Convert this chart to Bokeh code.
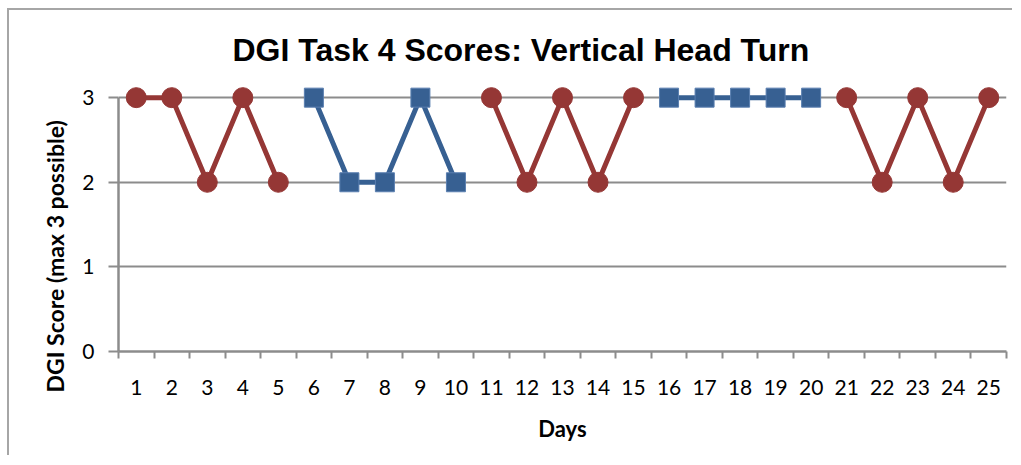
from bokeh.plotting import figure
from bokeh.models import FixedTicker, Range1d, Title
from bokeh.embed import file_html
from bokeh.resources import INLINE

# ---- data ----
title_text = "DGI Task 4 Scores: Vertical Head Turn"
x_label = "Days"
y_label = "DGI Score (max 3 possible)"
day_labels = ["1", "2", "3", "4", "5", "6", "7", "8", "9", "10", "11", "12", "13",
              "14", "15", "16", "17", "18", "19", "20", "21", "22", "23", "24", "25"]
red_days = [1, 2, 3, 4, 5, 11, 12, 13, 14, 15, 21, 22, 23, 24, 25]
red_scores = [3, 3, 2, 3, 2, 3, 2, 3, 2, 3, 3, 2, 3, 2, 3]
blue_days = [6, 7, 8, 9, 10, 16, 17, 18, 19, 20]
blue_scores = [3, 2, 2, 3, 2, 3, 3, 3, 3, 3]
y_ticks = [0, 1, 2, 3]

RED = "#953735"
BLUE = "#376092"
GRID = "#8c8c8c"


def with_breaks(xs, ys):
    ox, oy = [], []
    for i, (x, y) in enumerate(zip(xs, ys)):
        if i > 0 and x - xs[i - 1] > 1:
            ox.append(float("nan"))
            oy.append(float("nan"))
        ox.append(x)
        oy.append(y)
    return ox, oy


n = len(day_labels)
p = figure(width=1005, height=447, output_backend="svg", toolbar_location=None,
           x_range=Range1d(0.5, n + 0.5), y_range=Range1d(0, 3.25),
           min_border_left=109, min_border_right=8, min_border_top=66,
           min_border_bottom=106)
p.styles = {"border-top": "2px solid #a6a6a6", "border-left": "2px solid #a6a6a6",
            "margin-left": "7px", "margin-top": "8px"}
p.outline_line_color = None
p.background_fill_color = "white"
p.border_fill_color = "white"

p.title = Title(text=title_text, align="left", offset=114, standoff=18,
                text_font="Liberation Sans", text_font_style="bold",
                text_font_size="32px", text_color="black")

# x axis: labels at category centres, tick marks at category boundaries
p.xaxis.ticker = FixedTicker(ticks=list(range(1, n + 1)),
                             minor_ticks=[k + 0.5 for k in range(n + 1)])
p.xaxis.major_label_overrides = {i + 1: s for i, s in enumerate(day_labels)}
p.xaxis.major_tick_line_color = None
p.xaxis.major_tick_out = 0
p.xaxis.major_tick_in = 0
p.xaxis.minor_tick_line_color = GRID
p.xaxis.minor_tick_line_width = 2
p.xaxis.minor_tick_out = 7
p.xaxis.minor_tick_in = 0
p.xaxis.major_label_standoff = 21
p.xaxis.major_label_text_font = "Lato"
p.xaxis.major_label_text_font_size = "21px"
p.xaxis.major_label_text_color = "black"
p.xaxis.axis_line_color = GRID
p.xaxis.axis_line_width = 2.5
p.xaxis.axis_label = x_label
p.xaxis.axis_label_text_font = "Lato"
p.xaxis.axis_label_text_font_style = "bold"
p.xaxis.axis_label_text_font_size = "22px"
p.xaxis.axis_label_text_color = "black"
p.xaxis.axis_label_standoff = 17

p.yaxis.ticker = FixedTicker(ticks=y_ticks)
p.yaxis.bounds = (0, 3)
p.yaxis.major_tick_out = 10
p.yaxis.major_tick_in = 0
p.yaxis.major_tick_line_color = GRID
p.yaxis.major_tick_line_width = 2
p.yaxis.minor_tick_line_color = None
p.yaxis.axis_line_color = GRID
p.yaxis.axis_line_width = 2.5
p.yaxis.major_label_standoff = 14
p.yaxis.major_label_text_font = "Lato"
p.yaxis.major_label_text_font_size = "21px"
p.yaxis.major_label_text_color = "black"

# y title as a side title, so that it can be shifted along the axis
p.add_layout(Title(text=y_label, align="left", offset=-41, standoff=22,
                   text_font="Lato", text_font_style="bold", text_font_size="23px",
                   text_color="black"), "left")

p.xgrid.grid_line_color = None
p.ygrid.ticker = FixedTicker(ticks=y_ticks[1:])
p.ygrid.grid_line_color = GRID
p.ygrid.grid_line_width = 2

# series
rx, ry = with_breaks(red_days, red_scores)
bx, by = with_breaks(blue_days, blue_scores)
p.line(rx, ry, line_color=RED, line_width=5)
p.line(bx, by, line_color=BLUE, line_width=5)
p.scatter(red_days, red_scores, marker="circle", size=20, fill_color=RED, line_color=RED)
p.scatter(blue_days, blue_scores, marker="square", size=19, fill_color=BLUE,
          line_color="#5a7fb0", line_width=1)

open("out.html", "w").write(file_html(p, INLINE))
